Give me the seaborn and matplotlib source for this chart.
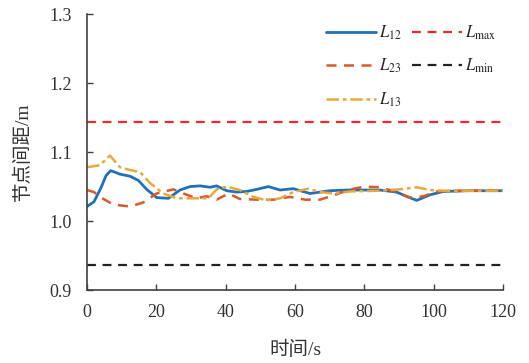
import matplotlib
matplotlib.use("Agg")
import matplotlib.pyplot as plt
import seaborn as sns

# time axis samples (s) and node spacing (m)
t12 = [0, 2, 4, 5.5, 6.8, 8, 9.5, 12.4, 14.8, 17.2, 20.1, 23.5, 26.8, 29.7, 32.6, 35.5,
       37.4, 40.3, 43.2, 46.1, 49, 52.3, 55.7, 59.5, 64.3, 70.1, 74.9, 84.5, 89.3,
       92.5, 95.1, 98.9, 102.8, 110, 120]
l12 = [1.021, 1.028, 1.048, 1.066, 1.073, 1.071, 1.068, 1.065, 1.059, 1.046, 1.034, 1.033,
       1.045, 1.050, 1.051, 1.049, 1.051, 1.044, 1.042, 1.043, 1.046, 1.050, 1.045, 1.047,
       1.040, 1.044, 1.045, 1.045, 1.042, 1.035, 1.030, 1.038, 1.043, 1.044, 1.044]

t23 = [0, 2, 3.7, 7.6, 12.4, 16.2, 20.1, 24.9, 28.8, 31.6, 34.5, 37.4, 40.8, 44.1,
       49, 53.7, 58.5, 62.9, 67.2, 71.5, 75.9, 80.2, 84.5, 89.3, 93.2, 97, 100.9, 110, 120]
l23 = [1.045, 1.042, 1.035, 1.024, 1.021, 1.027, 1.040, 1.046, 1.038, 1.033, 1.036, 1.031,
       1.040, 1.032, 1.031, 1.031, 1.035, 1.031, 1.031, 1.038, 1.046, 1.050, 1.049, 1.042,
       1.034, 1.036, 1.043, 1.044, 1.044]

t13 = [0, 3.7, 6.6, 9.5, 12.4, 15.3, 18.2, 22, 25.9, 30.7, 35, 37.4, 40.3, 44.1, 48,
       51.8, 55.7, 59.5, 63.8, 67.2, 71, 75.9, 84.5, 90.2, 95.1, 98.9, 102.8, 110, 120]
l13 = [1.078, 1.081, 1.095, 1.078, 1.074, 1.071, 1.055, 1.040, 1.033, 1.033, 1.033, 1.046,
       1.050, 1.045, 1.035, 1.030, 1.033, 1.042, 1.047, 1.042, 1.040, 1.043, 1.044, 1.046,
       1.049, 1.045, 1.044, 1.044, 1.044]

l_max = 1.144
l_min = 0.936
x_ticks = [0, 20, 40, 60, 80, 100, 120]
y_ticks = [0.9, 1.0, 1.1, 1.2, 1.3]

sns.set_theme(style="ticks")
plt.rcParams.update({
    "font.family": ["Liberation Serif", "Noto Sans CJK SC"],
    "mathtext.fontset": "stix",
    "font.size": 12,
    "axes.edgecolor": "#404040",
    "axes.linewidth": 1.2,
    "xtick.color": "#404040",
    "ytick.color": "#404040",
    "xtick.labelcolor": "#333333",
    "ytick.labelcolor": "#333333",
})

fig = plt.figure(figsize=(5.29, 3.63), dpi=100)
ax = fig.add_axes([0.1645, 0.201, 0.7865, 0.76])

sns.lineplot(x=t12, y=l12, ax=ax, color="#1f72b8", lw=2.0, label=r"$L_{\mathrm{12}}$", sort=False)
sns.lineplot(x=t23, y=l23, ax=ax, color="#d65a2a", lw=1.8, label=r"$L_{\mathrm{23}}$", sort=False,
             dashes=False)
ax.lines[-1].set_dashes([4, 3])
sns.lineplot(x=t13, y=l13, ax=ax, color="#e8a93a", lw=1.8, label=r"$L_{\mathrm{13}}$", sort=False)
ax.lines[-1].set_dashes([5, 1.5, 1.5, 1.5])
ax.axhline(l_max, color="#f02828", lw=1.6, dashes=(4, 3), label=r"$L_{\mathrm{max}}$")
ax.axhline(l_min, color="#222222", lw=1.6, dashes=(4, 3), label=r"$L_{\mathrm{min}}$")

ax.set_xlim(0, 120)
ax.set_ylim(0.9, 1.3)
ax.set_xticks(x_ticks)
ax.set_yticks(y_ticks)
ax.set_yticklabels([f"{v:.1f}" for v in y_ticks])
ax.tick_params(direction="in", length=4, width=1, labelsize=13)
ax.tick_params(axis="x", pad=10)
ax.tick_params(axis="y", pad=11)
ax.set_xlabel("时间/s", fontsize=14, labelpad=14, color="#333333")
ax.set_ylabel("节点间距/m", fontsize=14, labelpad=12, color="#333333")
sns.despine(ax=ax)

ax.legend(ncol=2, loc="upper right", bbox_to_anchor=(1.02, 1.02), frameon=False,
          fontsize=12, handlelength=3.0, handletextpad=0.2, labelspacing=0.9,
          columnspacing=0.6)

fig.savefig("out.png", dpi=100)
